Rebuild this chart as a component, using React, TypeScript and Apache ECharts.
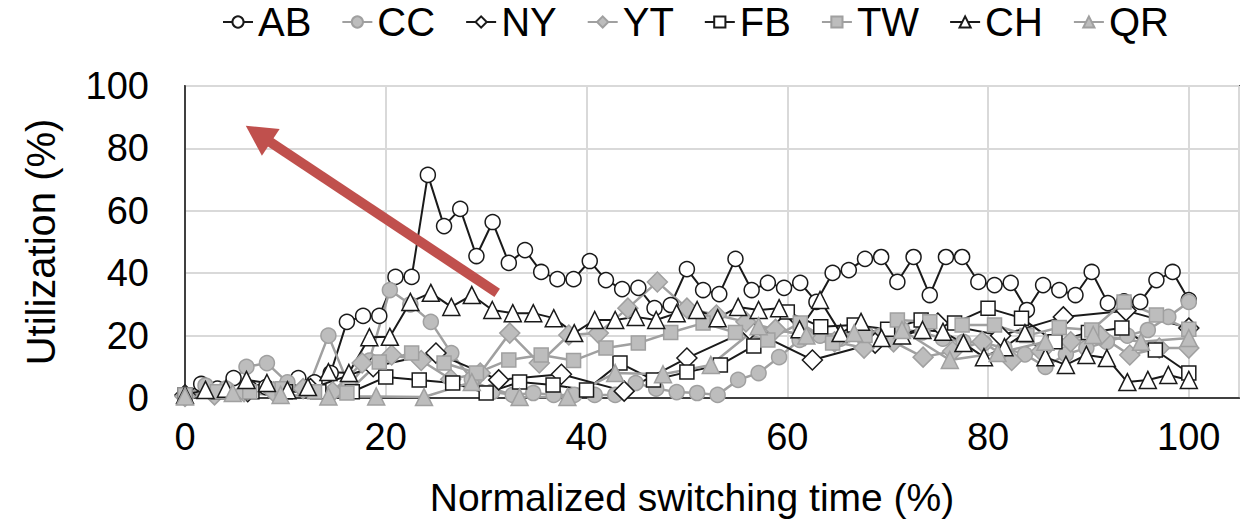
import React, { useEffect, useRef } from "react";
import * as echarts from "echarts";

// Utilization (%) per series, sampled at evenly spaced normalized switching times (0..100)
const abValues = [1, 4.5, 3, 6.4, 3, 3.5, 3, 6.4, 5, 8, 24.4, 26.3, 26.3, 38.8, 38.8, 71.5, 55.1, 60.6, 45.5, 56.4, 43.3, 47.4, 40.4, 38.1, 38.1, 43.9, 37.8, 34.9, 35.3, 28.8, 29.8, 41.3, 34.6, 33.3, 44.6, 34.6, 36.9, 35.3, 36.9, 30.8, 40.1, 41, 44.6, 45.2, 37.2, 45.2, 33, 45.2, 45.2, 37.2, 36.2, 36.9, 28.2, 36.2, 34.6, 33, 40.4, 30.4, 31, 30.8, 37.8, 40.4, 31.4];
const ccValues = [1, 4, 3, 10, 11.2, 5, 3, 20, 4, 12, 34.6, 30, 24.4, 14.4, 6, 2, 1, 1.6, 1, 1, 1, 1, 4.8, 3, 1.9, 1.6, 1, 5.8, 8, 13.1, 18.6, 20, 19, 21, 20, 22, 21, 19, 18, 17.6, 16, 14, 10, 14, 16, 18, 20, 21.8, 26, 30.8];
const nyValues = [1, 2, 3, 10, 14.4, 5.8, 7.6, 2.2, 12.8, 22, 12.2, 17.6, 24, 20, 26, 28, 22.4];
const ytValues = [0.5, 1, 2, 2, 3, 2, 11.2, 13.8, 12, 6, 8, 20.8, 11.2, 20.2, 20.8, 28.8, 37.2, 28.8, 26.6, 24.4, 22, 20, 18, 16, 18, 13.1, 15, 18, 12, 15, 18, 20, 13.8, 16, 16];
const fbValues = [1, 2, 2, 2, 2, 2, 6.7, 5.8, 4.8, 1.6, 5.1, 4.2, 2.6, 11.2, 5.8, 8.3, 10.6, 16.7, 27.6, 22.8, 23.4, 22, 25, 24, 28.8, 25.6, 18, 21, 22.4, 15.4, 8];
const twValues = [1, 2, 2, 3, 2, 1.6, 11.5, 14.4, 11.2, 8, 12.2, 13.8, 12, 16, 17.6, 21, 24, 21, 18.6, 24, 17.6, 20, 25, 24.4, 23.4, 23.4, 20, 22.6, 21.8, 30.8, 26.6, 22];
const chValues = [1, 2.6, 3, 5.8, 4.8, 2.5, 3.5, 8.3, 8, 19.5, 19.6, 30.8, 33.7, 29.2, 33, 28.2, 27.2, 27.2, 25.6, 20.8, 25, 25, 26, 25, 27.2, 28.2, 25.6, 29.2, 28.2, 28.8, 22, 31.4, 20.8, 24.4, 19.2, 20, 21.8, 21.2, 17.6, 13.1, 16.3, 20.8, 13.1, 10.6, 13.8, 12.8, 5.1, 5.8, 7.4, 5.8];
const qrValues = [0.5, 1.6, 1, 0.5, 0.5, 0.3, 5.1, 0.3, 0.3, 8, 7.6, 10.6, 23, 20, 20.8, 21.8, 12.2, 14.4, 18, 20.2, 18, 19.2];

const seriesNames = ["AB", "CC", "NY", "YT", "FB", "TW", "CH", "QR"];
const xTicks = [0, 20, 40, 60, 80, 100];
const yTicks = [0, 20, 40, 60, 80, 100];
const xTitle = "Normalized switching time (%)";
const yTitle = "Utilization (%)";
// arrow annotation: tail and head in data coordinates
const arrowTail = [31.1, 33.7];
const arrowHead = [7.3, 84.6];

const FONT = "'Liberation Sans', Arial, sans-serif";
const BLACK = "#000000";
const GRAY_LINE = "#a0a0a0";
const GRAY_FILL = "#bdbdbd";

function toPoints(values: number[]) {
  const n = values.length - 1;
  return values.map((v, i) => [(i * 100) / n, v]);
}

function makeSeries(
  name: string,
  values: number[],
  symbol: string,
  size: number | number[],
  gray: boolean
): any {
  return {
    name,
    type: "line",
    data: toPoints(values),
    symbol,
    symbolSize: size,
    showAllSymbol: true,
    lineStyle: { color: gray ? GRAY_LINE : "#1a1a1a", width: gray ? 2.5 : 2 },
    itemStyle: {
      color: gray ? GRAY_FILL : "#ffffff",
      borderColor: gray ? GRAY_LINE : "#1a1a1a",
      borderWidth: 1.5,
    },
    emphasis: { disabled: true },
  };
}

export default function App() {
  const ref = useRef<HTMLDivElement>(null);

  useEffect(() => {
    if (!ref.current) return;
    const chart = echarts.init(ref.current, null, { renderer: "svg" });

    const series: any[] = [
      makeSeries(seriesNames[0], abValues, "circle", 15, false),
      makeSeries(seriesNames[1], ccValues, "circle", 15, true),
      makeSeries(seriesNames[2], nyValues, "diamond", 20, false),
      makeSeries(seriesNames[3], ytValues, "diamond", 20, true),
      makeSeries(seriesNames[4], fbValues, "rect", 14, false),
      makeSeries(seriesNames[5], twValues, "rect", 14, true),
      makeSeries(seriesNames[6], chValues, "triangle", 17, false),
      makeSeries(seriesNames[7], qrValues, "triangle", 17, true),
    ];
    series[7].markLine = {
      silent: true,
      symbol: ["none", "triangle"],
      symbolSize: [32, 30],
      label: { show: false },
      lineStyle: { color: "#c0504d", width: 10, type: "solid", opacity: 1 },
      emphasis: { disabled: true },
      data: [[{ coord: arrowTail }, { coord: arrowHead }]],
    };

    chart.setOption({
      animation: false,
      backgroundColor: "#ffffff",
      textStyle: { fontFamily: FONT },
      legend: {
        data: seriesNames,
        top: 2,
        left: 222,
        padding: 0,
        itemWidth: 30,
        itemHeight: 14,
        itemGap: 30,
        textStyle: { fontSize: 40, color: BLACK, fontFamily: FONT },
      },
      grid: {
        left: 185,
        right: 2,
        top: 86,
        bottom: 127,
        show: true,
        borderColor: "#595959",
        borderWidth: 2,
      },
      xAxis: {
        type: "value",
        min: xTicks[0],
        max: 105,
        interval: 20,
        name: xTitle,
        nameLocation: "middle",
        nameGap: 80,
        nameTextStyle: { fontSize: 39, color: BLACK, fontFamily: FONT, padding: [0, 40, 0, 0] },
        axisLine: { show: true, lineStyle: { color: "#404040", width: 2 } },
        axisTick: { show: false },
        axisLabel: {
          fontSize: 38,
          color: BLACK,
          fontFamily: FONT,
          margin: 20,
          showMaxLabel: false,
          formatter: (v: number) => (xTicks.includes(v) ? String(v) : ""),
        },
        splitLine: { show: true, lineStyle: { color: "#d9d9d9", width: 2 } },
      },
      yAxis: {
        type: "value",
        min: yTicks[0],
        max: yTicks[yTicks.length - 1],
        interval: 20,
        name: yTitle,
        nameLocation: "middle",
        nameGap: 124,
        nameRotate: 90,
        nameTextStyle: { fontSize: 40, color: BLACK, fontFamily: FONT },
        axisLine: { show: true, lineStyle: { color: "#404040", width: 2 } },
        axisTick: { show: false },
        axisLabel: { fontSize: 38, color: BLACK, fontFamily: FONT, margin: 36 },
        splitLine: { show: true, lineStyle: { color: "#d9d9d9", width: 2 } },
      },
      series,
    });

    return () => chart.dispose();
  }, []);

  return (
    <div
      ref={ref}
      style={{ position: "fixed", left: 0, top: 0, width: 1241, height: 525, background: "#fff" }}
    />
  );
}
